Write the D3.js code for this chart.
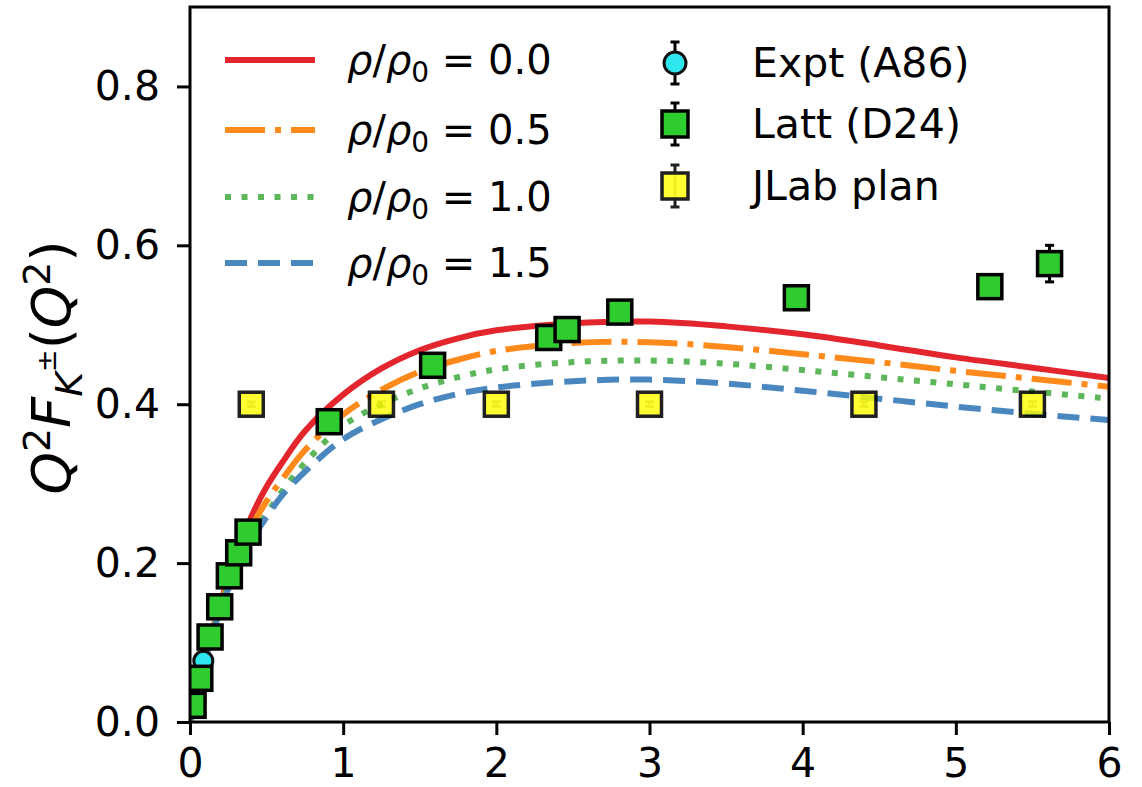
<!DOCTYPE html>
<html>
<head>
<meta charset="utf-8">
<script src="https://cdn.jsdelivr.net/npm/d3@7"></script>
<style>
    body { margin: 0; background: #fff; }
    svg { display: block; font-family: "DejaVu Sans", sans-serif; }
</style>
</head>
<body>
<div id="chart"></div>
<script>
// Q^2 grid used for the model curves
const q2Grid = [0, 0.05, 0.1, 0.2, 0.3, 0.4, 0.5, 0.6, 0.75, 1.0, 1.25, 1.5, 1.75, 2.0, 2.5, 3.0, 3.5, 4.0, 4.5, 5.0, 5.5, 6.0];

// model curves Q^2 F_K(Q^2) for each density
const rho00 = [0, 0.042, 0.082, 0.150, 0.207, 0.258, 0.296, 0.326, 0.366, 0.412, 0.445, 0.468, 0.483, 0.493, 0.502, 0.504, 0.498, 0.488, 0.474, 0.459, 0.446, 0.433];
const rho05 = [0, 0.042, 0.081, 0.147, 0.200, 0.245, 0.278, 0.305, 0.342, 0.387, 0.418, 0.441, 0.456, 0.467, 0.477, 0.478, 0.472, 0.463, 0.453, 0.442, 0.432, 0.422];
const rho10 = [0, 0.042, 0.080, 0.145, 0.195, 0.235, 0.262, 0.290, 0.326, 0.373, 0.400, 0.420, 0.434, 0.444, 0.453, 0.455, 0.451, 0.443, 0.434, 0.425, 0.416, 0.407];
const rho15 = [0, 0.042, 0.079, 0.142, 0.190, 0.228, 0.258, 0.285, 0.315, 0.356, 0.381, 0.400, 0.413, 0.421, 0.429, 0.431, 0.426, 0.417, 0.407, 0.397, 0.388, 0.380];
const curveLabels = ["0.0", "0.5", "1.0", "1.5"];

// experiment (A86)
const exptQ2 = [0.035, 0.06, 0.087];
const exptVal = [0.030, 0.050, 0.077];
const exptErr = [0.004, 0.004, 0.005];

// lattice (D24)
const lattQ2 = [0.02, 0.064, 0.131, 0.194, 0.257, 0.318, 0.379, 0.909, 1.584, 2.342, 2.462, 2.806, 3.959, 5.222, 5.612];
const lattVal = [0.021, 0.055, 0.107, 0.145, 0.184, 0.213, 0.239, 0.378, 0.449, 0.484, 0.494, 0.516, 0.534, 0.548, 0.577];
const lattErr = [0.002, 0.003, 0.003, 0.003, 0.004, 0.004, 0.004, 0.005, 0.006, 0.006, 0.006, 0.007, 0.008, 0.010, 0.023];

// JLab planned points
const jlabQ2 = [0.4, 1.25, 2.0, 3.0, 4.4, 5.5];
const jlabVal = [0.4, 0.4, 0.4, 0.4, 0.4, 0.4];
const jlabErr = [0.003, 0.003, 0.003, 0.003, 0.003, 0.003];

const xTicks = [0, 1, 2, 3, 4, 5, 6];
const yTicks = [0.0, 0.2, 0.4, 0.6, 0.8];

const width = 1142, height = 787;
const margin = { top: 7, right: 33, bottom: 65, left: 190 };
const innerW = width - margin.left - margin.right;
const innerH = height - margin.top - margin.bottom;

const svg = d3.select("#chart").append("svg")
    .attr("width", width)
    .attr("height", height);

const chart = svg.append("g")
    .attr("transform", `translate(${margin.left},${margin.top})`);

const x = d3.scaleLinear().domain([0, 6]).range([0, innerW]);
const y = d3.scaleLinear().domain([0, 0.9]).range([innerH, 0]);

chart.append("clipPath").attr("id", "plotclip")
    .append("rect").attr("width", innerW).attr("height", innerH);

const plot = chart.append("g").attr("clip-path", "url(#plotclip)");

// curves
const curveStyles = [
    { data: rho00, color: "#e3262e", dash: null },
    { data: rho05, color: "#ff8a1c", dash: "40,10,6,10" },
    { data: rho10, color: "#5db65a", dash: "6,10.5" },
    { data: rho15, color: "#4a87bf", dash: "22,11" }
];

const line = d3.line()
    .x(d => x(d[0]))
    .y(d => y(d[1]))
    .curve(d3.curveCatmullRom.alpha(0.5));

curveStyles.forEach(c => {
    plot.append("path")
        .datum(q2Grid.map((q, i) => [q, c.data[i]]))
        .attr("fill", "none")
        .attr("stroke", c.color)
        .attr("stroke-width", 6)
        .attr("stroke-dasharray", c.dash)
        .attr("d", line);
});

// error bar helper
function errorBars(g, xs, vs, es) {
    xs.forEach((q, i) => {
        const cx = x(q);
        const y0 = y(vs[i] - es[i]), y1 = y(vs[i] + es[i]);
        g.append("line").attr("x1", cx).attr("x2", cx).attr("y1", y0).attr("y2", y1)
            .attr("stroke", "#000").attr("stroke-width", 3);
        [y0, y1].forEach(yy => g.append("line")
            .attr("x1", cx - 4.5).attr("x2", cx + 4.5).attr("y1", yy).attr("y2", yy)
            .attr("stroke", "#000").attr("stroke-width", 3));
    });
}

// experiment points
errorBars(plot, exptQ2, exptVal, exptErr);
plot.selectAll(".expt").data(exptQ2).enter().append("circle")
    .attr("class", "expt")
    .attr("cx", d => x(d))
    .attr("cy", (d, i) => y(exptVal[i]))
    .attr("r", 9.5)
    .attr("fill", "#2ee6ee")
    .attr("stroke", "#111")
    .attr("stroke-width", 3);

// lattice points
const sq = 24;
errorBars(plot, lattQ2, lattVal, lattErr);
plot.selectAll(".latt").data(lattQ2).enter().append("rect")
    .attr("class", "latt")
    .attr("x", d => x(d) - sq / 2)
    .attr("y", (d, i) => y(lattVal[i]) - sq / 2)
    .attr("width", sq).attr("height", sq)
    .attr("fill", "#2ecc2e")
    .attr("stroke", "#000")
    .attr("stroke-width", 3.5);

// JLab points, drawn a bit transparent
const jg = plot.append("g").attr("opacity", 0.87);
errorBars(jg, jlabQ2, jlabVal, jlabErr);
jg.selectAll(".jlab").data(jlabQ2).enter().append("rect")
    .attr("class", "jlab")
    .attr("x", d => x(d) - sq / 2)
    .attr("y", (d, i) => y(jlabVal[i]) - sq / 2)
    .attr("width", sq).attr("height", sq)
    .attr("fill", "#ffff00")
    .attr("fill-opacity", 0.92)
    .attr("stroke", "#000")
    .attr("stroke-width", 3.5);

// axes
const xAxis = d3.axisBottom(x).tickValues(xTicks).tickFormat(d3.format("d")).tickSize(13).tickPadding(13);
const yAxis = d3.axisLeft(y).tickValues(yTicks).tickFormat(d3.format(".1f")).tickSize(13).tickPadding(17);

const xAxisG = chart.append("g").attr("transform", `translate(0,${innerH})`).call(xAxis);
const yAxisG = chart.append("g").call(yAxis);

[xAxisG, yAxisG].forEach(g => {
    g.select(".domain").remove();
    g.selectAll(".tick line").attr("stroke", "#000").attr("stroke-width", 3);
    g.selectAll(".tick text")
        .attr("fill", "#000")
        .style("font-size", "41px")
        .style("font-family", "DejaVu Sans");
});

// frame
chart.append("rect")
    .attr("width", innerW).attr("height", innerH)
    .attr("fill", "none")
    .attr("stroke", "#000")
    .attr("stroke-width", 3);

// y axis label
const ylab = svg.append("text")
    .attr("transform", `translate(70,${margin.top + innerH / 2 + 3}) rotate(-90)`)
    .attr("text-anchor", "middle")
    .style("font-size", "54px")
    .attr("fill", "#000");
ylab.append("tspan").style("font-style", "italic").text("Q");
ylab.append("tspan").attr("dy", -20).style("font-size", "38px").text("2");
ylab.append("tspan").attr("dy", 20).style("font-style", "italic").text("F");
ylab.append("tspan").attr("dy", 12).style("font-size", "38px").style("font-style", "italic").text("K");
ylab.append("tspan").attr("dy", -26).style("font-size", "27px").text("±");
ylab.append("tspan").attr("dy", 14).text("(");
ylab.append("tspan").style("font-style", "italic").text("Q");
ylab.append("tspan").attr("dy", -20).style("font-size", "38px").text("2");
ylab.append("tspan").attr("dy", 20).text(")");

// legend: curves
const legL = svg.append("g").attr("transform", "translate(225,0)");
const legRows = [60, 130, 197, 263];
curveStyles.forEach((c, i) => {
    legL.append("line")
        .attr("x1", 0).attr("x2", 90)
        .attr("y1", legRows[i]).attr("y2", legRows[i])
        .attr("stroke", c.color)
        .attr("stroke-width", 6)
        .attr("stroke-dasharray", c.dash);
    const t = legL.append("text")
        .attr("x", 122).attr("y", legRows[i] + 14)
        .style("font-size", "40px")
        .attr("fill", "#000");
    t.append("tspan").style("font-style", "italic").text("ρ");
    t.append("tspan").text("/");
    t.append("tspan").style("font-style", "italic").text("ρ");
    t.append("tspan").attr("dy", 8).style("font-size", "28px").text("0");
    t.append("tspan").attr("dy", -8).text(" = " + curveLabels[i]);
});

// legend: data markers
const legR = svg.append("g").attr("transform", "translate(675,0)");
const markRows = [63, 124, 186];
const markNames = ["Expt (A86)", "Latt (D24)", "JLab plan"];
markRows.forEach((ry, i) => {
    const mg = legR.append("g").attr("opacity", i === 2 ? 0.87 : 1);
    mg.append("line").attr("x1", 0).attr("x2", 0).attr("y1", ry - 21).attr("y2", ry + 21)
        .attr("stroke", "#000").attr("stroke-width", 3);
    [ry - 21, ry + 21].forEach(yy => mg.append("line")
        .attr("x1", -4.5).attr("x2", 4.5).attr("y1", yy).attr("y2", yy)
        .attr("stroke", "#000").attr("stroke-width", 3));
    if (i === 0) {
        mg.append("circle").attr("cx", 0).attr("cy", ry).attr("r", 11)
            .attr("fill", "#2ee6ee").attr("stroke", "#111").attr("stroke-width", 3);
    } else {
        mg.append("rect").attr("x", -13).attr("y", ry - 13).attr("width", 26).attr("height", 26)
            .attr("fill", i === 1 ? "#2ecc2e" : "#ffff00")
            .attr("fill-opacity", i === 1 ? 1 : 0.92)
            .attr("stroke", "#000").attr("stroke-width", 3.5);
    }
    legR.append("text")
        .attr("x", 77).attr("y", ry + 14)
        .style("font-size", "41px")
        .attr("fill", "#000")
        .text(markNames[i]);
});
</script>
</body>
</html>
